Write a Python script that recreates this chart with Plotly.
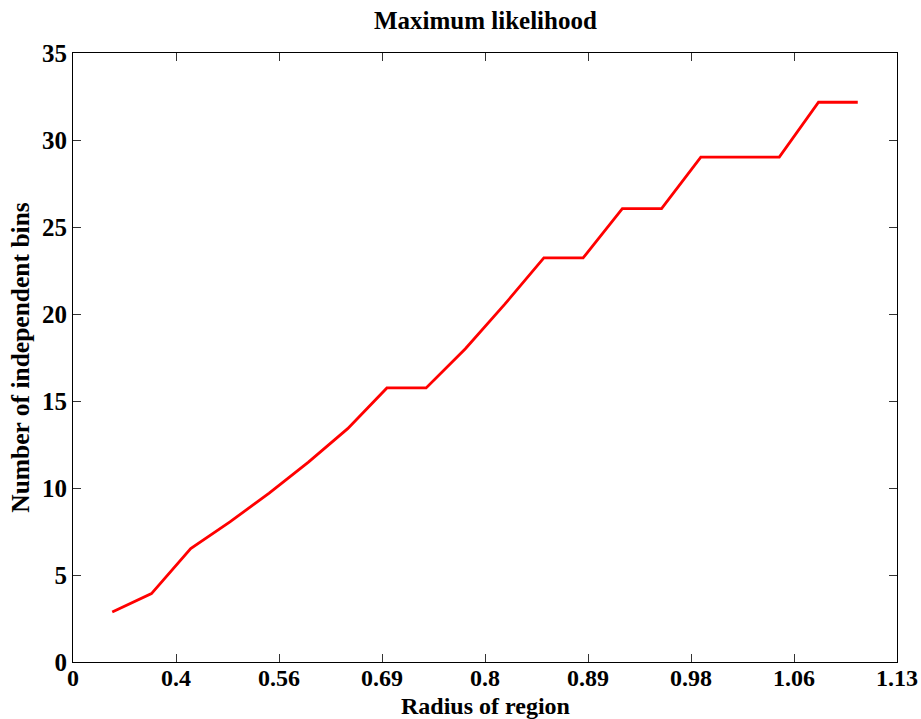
import plotly.graph_objects as go

# Data
bin_index = list(range(1, 21))
independent_bins = [2.87, 3.93, 6.52, 8.05, 9.71, 11.49, 13.41, 15.75, 15.75, 18.0,
                    20.55, 23.22, 23.22, 26.06, 26.06, 29.02, 29.02, 29.02, 32.17, 32.17]
radius_labels = ["0", "0.4", "0.56", "0.69", "0.8", "0.89", "0.98", "1.06", "1.13"]
x_max = 21
tick_positions = [x_max * k / (len(radius_labels) - 1) for k in range(len(radius_labels))]
y_ticks = [0, 5, 10, 15, 20, 25, 30, 35]

FONT = "Liberation Serif"

fig = go.Figure()
fig.add_trace(go.Scatter(
    x=bin_index, y=independent_bins, mode="lines",
    line=dict(color="#ff0000", width=2.8),
    showlegend=False,
))

axis_common = dict(
    showline=True, linecolor="black", linewidth=1.2, mirror="ticks",
    ticks="inside", ticklen=8, tickwidth=1, tickcolor="#333333",
    showgrid=False, zeroline=False, automargin=False,
    tickfont=dict(family=FONT, size=25, color="black"),
)

fig.update_layout(
    width=921, height=719,
    margin=dict(l=73, r=24, t=53, b=57),
    paper_bgcolor="white", plot_bgcolor="white",
    title=dict(text="<b>Maximum likelihood</b>", x=0.527, xanchor="center",
               y=0.972, yanchor="middle",
               font=dict(family=FONT, size=25, color="black")),
    xaxis=dict(range=[0, x_max], tickmode="array", tickvals=tick_positions,
               ticktext=["<b>%s</b>" % t for t in radius_labels],
               ticklabelstandoff=-6,
               tickfont=dict(family=FONT, size=24, color="black"),
               **{k: v for k, v in axis_common.items() if k != "tickfont"}),
    yaxis=dict(range=[0, 35], tickmode="array", tickvals=y_ticks,
               ticktext=["<b>%d</b>" % v for v in y_ticks],
               title=dict(text="<b>Number of independent bins</b>", standoff=4,
                          font=dict(family=FONT, size=25.5, color="black")),
               **axis_common),
    annotations=[dict(
        text="<b>Radius of region</b>", xref="paper", yref="paper",
        x=0.5, y=-0.0945, xanchor="center", yanchor="bottom", showarrow=False,
        borderpad=0,
        font=dict(family=FONT, size=24, color="black"),
    )],
)

fig.write_html("out.html")
